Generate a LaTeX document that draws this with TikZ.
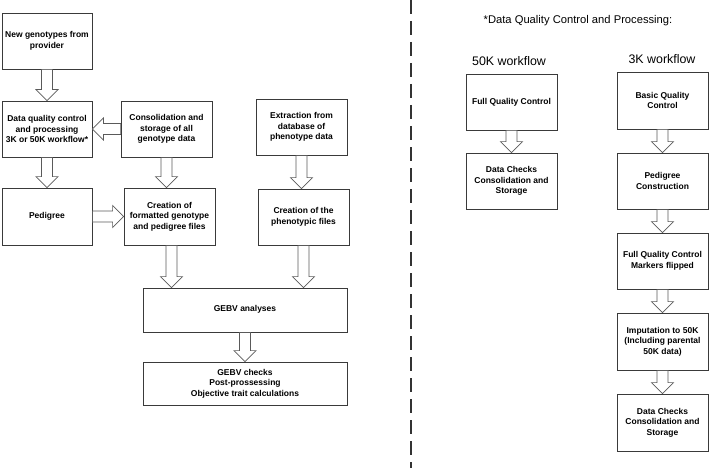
\documentclass[tikz,border=0pt]{standalone}
\usepackage{fontspec}
\setmainfont{Liberation Sans}
\usetikzlibrary{calc}
\definecolor{boxline}{HTML}{3A3A3A}
\definecolor{arrline}{HTML}{5A5A5A}
\definecolor{dashline}{HTML}{333333}
\tikzset{
  box/.style={draw=boxline, line width=0.8pt, fill=white, minimum width=90pt,
    minimum height=56pt, align=center, inner sep=1pt,
    font=\fontsize{8.5}{10.5}\selectfont\bfseries},
  blkarrow/.style={draw=arrline, line width=0.7pt, fill=white, line join=miter},
  ttl/.style={font=\fontsize{11.2}{13}\selectfont, inner sep=0pt},
  wf/.style={font=\fontsize{12.4}{14}\selectfont, inner sep=0pt},
}
\newcommand\blockarr[2]{%
  \draw[blkarrow] let \p1=($(#2)-(#1)$), \n1={veclen(\x1,\y1)}, \n2={atan2(\y1,\x1)} in
    [shift={(#1)}, rotate=\n2]
    (0,-5.5) -- ({\n1-11},-5.5) -- ({\n1-11},-11) -- ({\n1},0) -- ({\n1-11},11)
    -- ({\n1-11},5.5) -- (0,5.5) -- cycle;}
\begin{document}
\begin{tikzpicture}[x=1pt, y=1pt]
\useasboundingbox (0,0) rectangle (709,-468);
% divider
\draw[dashline, line width=2pt, dash pattern=on 14pt off 7pt] (411,0) -- (411,-468);
% left flow
\node[box] (A) at (47,-41) {New genotypes from\\provider};
\node[box] (B) at (47,-129) {Data quality control\\and processing\\3K or 50K workflow*};
\node[box, minimum width=91pt] (C) at (166.5,-129) {Consolidation and\\storage of all\\genotype data};
\node[box, minimum width=91pt] (D) at (301.5,-127) {Extraction from\\database of\\phenotype data};
\node[box, minimum height=57pt] (E) at (47,-216.5) {Pedigree};
\node[box, minimum width=91pt, minimum height=57pt] (F) at (169.5,-216.5) {Creation of\\formatted genotype\\and pedigree files};
\node[box, minimum width=91pt] (G) at (303.5,-217) {Creation of the\\phenotypic files};
\node[box, minimum width=204pt, minimum height=44pt] (H) at (245,-310) {\raisebox{4pt}{GEBV analyses}};
\node[box, minimum width=204pt, minimum height=43pt] (I) at (245,-383.5) {GEBV checks\\Post-prossessing\\Objective trait calculations};
\blockarr{A.south}{B.north}
\blockarr{C.west}{B.east}
\blockarr{B.south}{E.north}
\blockarr{E.east}{F.west}
\blockarr{C.south}{C.south |- F.north}
\blockarr{D.south}{D.south |- G.north}
\blockarr{$(F.south)+(2,0)$}{$(F.south |- H.north)+(2,0)$}
\blockarr{G.south}{G.south |- H.north}
\blockarr{H.south}{I.north}
% right side
\node[ttl] (T) at (578,-21) {*Data Quality Control and Processing:};
\node[wf] (W50) at (509,-61) {50K workflow};
\node[wf] (W3) at (662,-59) {3K workflow};
\node[box, minimum width=91pt] (J) at (511.5,-102) {Full Quality Control};
\node[box, minimum width=91pt] (K) at (511.5,-181) {Data Checks\\Consolidation and\\Storage};
\node[box, minimum width=91pt, minimum height=57pt] (L) at (662.5,-100.5) {Basic Quality\\Control};
\node[box, minimum width=91pt] (M) at (662.5,-181) {Pedigree\\Construction};
\node[box, minimum width=91pt] (N) at (662.5,-261) {Full Quality Control\\Markers flipped};
\node[box, minimum width=91pt, minimum height=57pt] (O) at (662.5,-341.5) {Imputation to 50K\\(Including parental\\50K data)};
\node[box, minimum width=91pt, minimum height=57pt] (P) at (662.5,-422.5) {Data Checks\\Consolidation and\\Storage};
\blockarr{J.south}{K.north}
\blockarr{L.south}{M.north}
\blockarr{M.south}{N.north}
\blockarr{N.south}{O.north}
\blockarr{O.south}{P.north}
\end{tikzpicture}
\end{document}
